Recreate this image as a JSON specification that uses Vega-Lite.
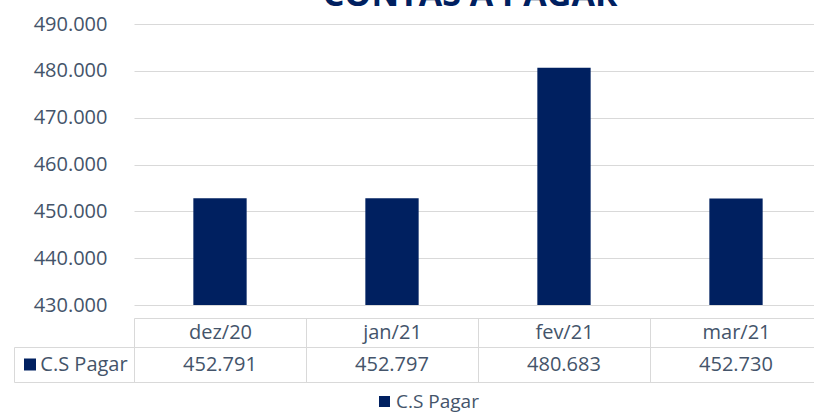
{
  "$schema": "https://vega.github.io/schema/vega-lite/v6.json",
  "autosize": "none",
  "padding": {"left": 14, "top": 24, "right": 800, "bottom": 388},
  "background": "white",
  "title": {
    "text": "CONTAS A PAGAR",
    "font": "Open Sans",
    "fontSize": 34,
    "fontWeight": "bold",
    "color": "#002060",
    "anchor": "start",
    "align": "center",
    "frame": "group",
    "baseline": "alphabetic",
    "offset": -26,
    "dx": 456
  },
  "data": {
    "values": [
      {"mes": "dez/20", "valor": 452791, "serie": "C.S Pagar"},
      {"mes": "jan/21", "valor": 452797, "serie": "C.S Pagar"},
      {"mes": "fev/21", "valor": 480683, "serie": "C.S Pagar"},
      {"mes": "mar/21", "valor": 452730, "serie": "C.S Pagar"}
    ]
  },
  "columns": 2,
  "spacing": {"row": 42, "column": 0},
  "bounds": "flush",
  "align": "each",
  "concat": [
    {
      "width": 120,
      "height": 281,
      "data": {"values": []},
      "mark": {"type": "point"},
      "encoding": {}
    },
    {
      "width": 688,
      "height": 281,
      "mark": {"type": "bar", "width": {"band": 0.31}, "clip": true},
      "encoding": {
        "x": {
          "field": "mes",
          "type": "nominal",
          "sort": null,
          "scale": {"paddingInner": 0, "paddingOuter": 0},
          "axis": {
            "orient": "bottom",
            "title": null,
            "offset": 13,
            "labelAngle": 0,
            "labelFont": "Open Sans",
            "labelFontSize": 20,
            "labelColor": "#44546a",
            "labelBaseline": "middle",
            "labelPadding": -15,
            "tickBand": "extent",
            "tickSize": 29,
            "tickColor": "#d9d9d9",
            "domainColor": "#d9d9d9",
            "grid": false
          }
        },
        "y": {
          "field": "valor",
          "type": "quantitative",
          "scale": {"domain": [430000, 490000], "zero": false, "nice": false},
          "axis": {
            "title": null,
            "format": ",d",
            "tickCount": 6,
            "domain": false,
            "ticks": false,
            "grid": true,
            "gridColor": "#d9d9d9",
            "labelFont": "Open Sans",
            "labelFontSize": 20,
            "labelColor": "#44546a",
            "labelPadding": 27
          }
        },
        "color": {
          "field": "serie",
          "type": "nominal",
          "scale": {"range": ["#002060"]},
          "legend": {
            "title": null,
            "orient": "none",
            "legendX": 361,
            "legendY": 368,
            "symbolType": "square",
            "symbolSize": 121,
            "symbolStrokeWidth": 0,
            "labelFont": "Open Sans",
            "labelFontSize": 19,
            "labelColor": "#44546a",
            "labelOffset": 2
          }
        }
      }
    },
    {
      "width": 120,
      "height": 35,
      "view": {"stroke": "#d9d9d9"},
      "data": {"values": [{"serie": "C.S Pagar"}]},
      "layer": [
        {
          "mark": {"type": "point", "shape": "square", "filled": true, "size": 144, "color": "#002060", "opacity": 1, "xOffset": -44},
          "encoding": {}
        },
        {
          "mark": {"type": "text", "font": "Open Sans", "fontSize": 20, "color": "#44546a", "dx": 10},
          "encoding": {"text": {"field": "serie", "type": "nominal"}}
        }
      ]
    },
    {
      "width": 688,
      "height": 35,
      "view": {"stroke": "#d9d9d9"},
      "mark": {"type": "text", "font": "Open Sans", "fontSize": 20, "color": "#44546a"},
      "encoding": {
        "x": {
          "field": "mes",
          "type": "nominal",
          "sort": null,
          "scale": {"paddingInner": 0, "paddingOuter": 0},
          "axis": {
            "orient": "top",
            "title": null,
            "labels": false,
            "ticks": false,
            "domain": false,
            "grid": true,
            "gridColor": "#d9d9d9",
            "tickBand": "extent"
          }
        },
        "text": {"field": "valor", "type": "quantitative", "format": ",d"}
      }
    }
  ],
  "config": {
    "view": {"stroke": null},
    "locale": {
      "number": {"decimal": ",", "thousands": ".", "grouping": [3], "currency": ["R$", ""]}
    }
  }
}
